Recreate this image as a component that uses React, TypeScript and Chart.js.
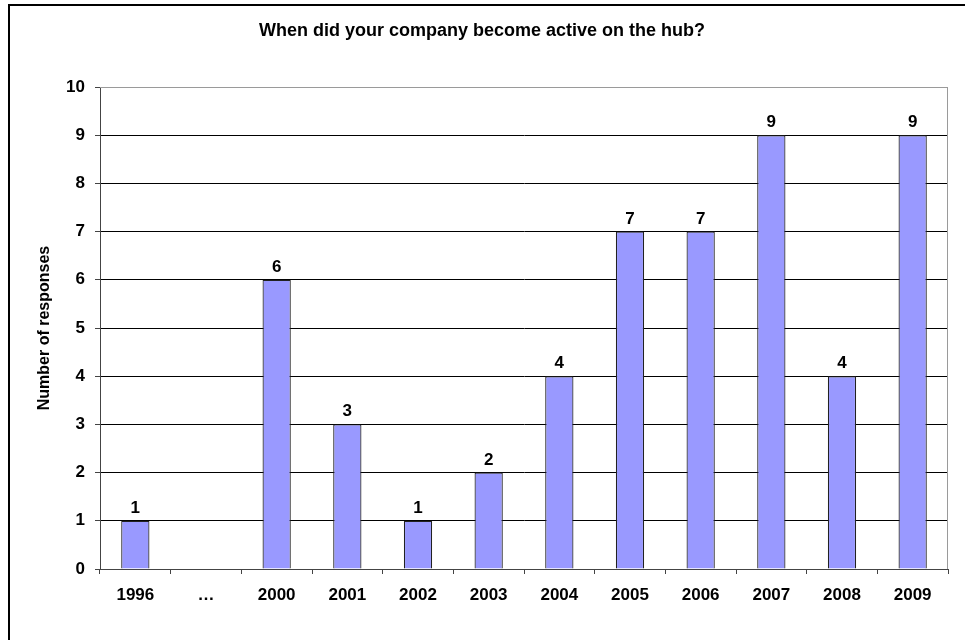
import React, { useEffect, useRef } from "react";
import { Chart, registerables } from "chart.js";

Chart.register(...registerables);

const categories = ["1996", "…", "2000", "2001", "2002", "2003", "2004", "2005", "2006", "2007", "2008", "2009"];
const responses: (number | null)[] = [1, null, 6, 3, 1, 2, 4, 7, 7, 9, 4, 9];
const yTicks = [0, 1, 2, 3, 4, 5, 6, 7, 8, 9, 10];
const titleText = "When did your company become active on the hub?";
const yTitleText = "Number of responses";

const FONT = "'Liberation Sans', Arial, sans-serif";

export default function App() {
  const ref = useRef<HTMLCanvasElement>(null);
  useEffect(() => {
    if (!ref.current) return;
    const extras = {
      id: "extras",
      afterDraw(chart: any) {
        const ctx = chart.ctx;
        const a = chart.chartArea;
        ctx.save();
        // plot border top/right
        ctx.strokeStyle = "#9a9a9a";
        ctx.lineWidth = 1;
        ctx.beginPath();
        ctx.moveTo(a.left, a.top + 0.5);
        ctx.lineTo(a.right - 0.5, a.top + 0.5);
        ctx.lineTo(a.right - 0.5, a.bottom);
        ctx.stroke();
        // title
        ctx.fillStyle = "#000";
        ctx.font = `bold 18px ${FONT}`;
        ctx.textAlign = "center";
        ctx.textBaseline = "middle";
        ctx.fillText(titleText, 482, 31);
        // y title
        ctx.save();
        ctx.translate(45, (a.top + a.bottom) / 2);
        ctx.rotate(-Math.PI / 2);
        ctx.font = `bold 16px ${FONT}`;
        ctx.fillText(yTitleText, 0, 0);
        ctx.restore();
        // data labels
        ctx.font = `bold 17px ${FONT}`;
        ctx.textAlign = "center";
        ctx.textBaseline = "alphabetic";
        const meta = chart.getDatasetMeta(0);
        meta.data.forEach((bar: any, i: number) => {
          const v = responses[i];
          if (v === null || v === undefined) return;
          ctx.fillText(String(v), bar.x, bar.y - 8);
        });
        ctx.restore();
      },
    };
    const chart = new Chart(ref.current, {
      type: "bar",
      data: {
        labels: categories,
        datasets: [
          {
            data: responses,
            backgroundColor: "#9999FF",
            borderColor: "#222",
            borderWidth: 1.2,
            categoryPercentage: 1,
            barPercentage: 0.4,
          },
        ],
      },
      options: {
        animation: false,
        responsive: false,
        layout: { padding: { left: 0, top: 87, right: 17, bottom: 0 } },
        plugins: { legend: { display: false }, title: { display: false }, tooltip: { enabled: false } },
        scales: {
          x: {
            afterFit: (s: any) => { s.height = 71; },
            grid: { display: true, drawOnChartArea: false, drawTicks: true, tickLength: 5, offset: true, color: "#444", tickColor: "#444" },
            border: { display: true, color: "#444", width: 1 },
            ticks: { color: "#000", font: { family: FONT, size: 17, weight: "bold" }, padding: 11, maxRotation: 0, autoSkip: false },
          },
          y: {
            min: 0,
            max: 10,
            afterFit: (s: any) => { s.width = 100; },
            afterBuildTicks: (s: any) => { s.ticks = yTicks.map((v) => ({ value: v })); },
            grid: {
              color: (c: any) => (c.tick && c.tick.value === 10 ? "#9a9a9a" : "#000"),
              tickColor: "#444",
              tickLength: 5,
              lineWidth: 1,
            },
            border: { display: true, color: "#444", width: 1 },
            ticks: { color: "#000", font: { family: FONT, size: 17, weight: "bold" }, padding: 10, stepSize: 1 },
          },
        },
      },
      plugins: [extras],
    } as any);
    return () => chart.destroy();
  }, []);
  return (
    <div>
      <div style={{ position: "fixed", left: 8, top: 4, width: 1100, height: 800, border: "2px solid #000", boxSizing: "border-box" }} />
      <canvas ref={ref} width={965} height={640} style={{ position: "fixed", left: 0, top: 0, width: 965, height: 640 }} />
    </div>
  );
}
